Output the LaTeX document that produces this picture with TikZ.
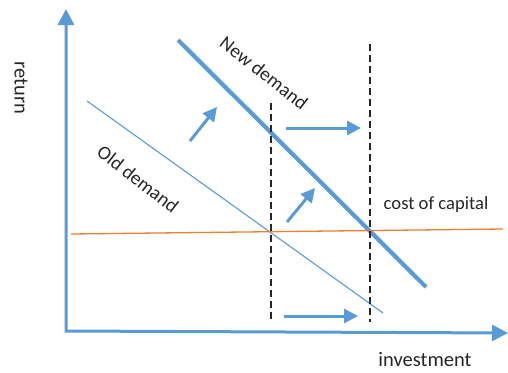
\documentclass[tikz,border=0pt]{standalone}
\usepackage{fontspec}
\setmainfont{Carlito}
\usetikzlibrary{arrows.meta}
\definecolor{obl}{HTML}{5B9BD5}
\definecolor{oor}{HTML}{ED7D31}
\tikzset{
  axisline/.style={draw=obl, line width=3pt},
  shiftarrow/.style={draw=obl, line width=3pt, -{Triangle[length=14pt,width=14pt]}},
  olddem/.style={draw=obl, line width=1.1pt},
  newdem/.style={draw=obl, line width=4.2pt},
  capline/.style={draw=oor, line width=1.3pt},
  vdash/.style={draw=black!85, line width=2pt, dash pattern=on 7pt off 4pt},
  lbl/.style={inner sep=0pt, font=\fontsize{18.6}{22}\selectfont, text=black!85},
  biglbl/.style={lbl, font=\fontsize{20.5}{24}\selectfont},
  demlbl/.style={lbl, font=\fontsize{19.4}{23}\selectfont, rotate=-38}
}
\begin{document}
\begin{tikzpicture}[x=1pt,y=-1pt]
\useasboundingbox (0,0) rectangle (508,372);
% axes
\coordinate (ytip) at (66,9);
\coordinate (orig) at (66,331);
\coordinate (xtip) at (508,333);
\draw[axisline, {Triangle[length=16pt,width=16pt]}-{Triangle[length=16pt,width=16pt]}] (ytip) -- (orig) -- (xtip);
% demand lines
\coordinate (od1) at (87,101);
\coordinate (od2) at (383,313);
\draw[olddem] (od1) -- (od2);
\coordinate (nd1) at (178,40);
\coordinate (nd2) at (426,287);
\draw[newdem] (nd1) -- (nd2);
% cost of capital
\coordinate (cc1) at (71,234);
\coordinate (cc2) at (503,229);
\draw[capline] (cc1) -- (cc2);
% dashed verticals
\coordinate (d1t) at (271,103);
\coordinate (d1b) at (271,322);
\coordinate (d2t) at (370,44);
\coordinate (d2b) at (370,322);
\draw[vdash] (d1t) -- (d1b);
\draw[vdash] (d2t) -- (d2b);
% shift arrows
\coordinate (a1s) at (190,141); \coordinate (a1e) at (217,107);
\coordinate (a2s) at (286,128); \coordinate (a2e) at (361,128);
\coordinate (a3s) at (287,222); \coordinate (a3e) at (315,188);
\coordinate (a4s) at (284,316); \coordinate (a4e) at (358,316);
\draw[shiftarrow] (a1s) -- (a1e);
\draw[shiftarrow] (a2s) -- (a2e);
\draw[shiftarrow] (a3s) -- (a3e);
\draw[shiftarrow] (a4s) -- (a4e);
% labels
\node[biglbl, rotate=-90] (ret) at (21,88) {return};
\node[biglbl] (inv) at (425,360) {investment};
\node[lbl] (coc) at (436,205) {cost of capital};
\node[demlbl] (newl) at (264,73) {New demand};
\node[demlbl] (oldl) at (138,179) {Old demand};
\end{tikzpicture}
\end{document}
